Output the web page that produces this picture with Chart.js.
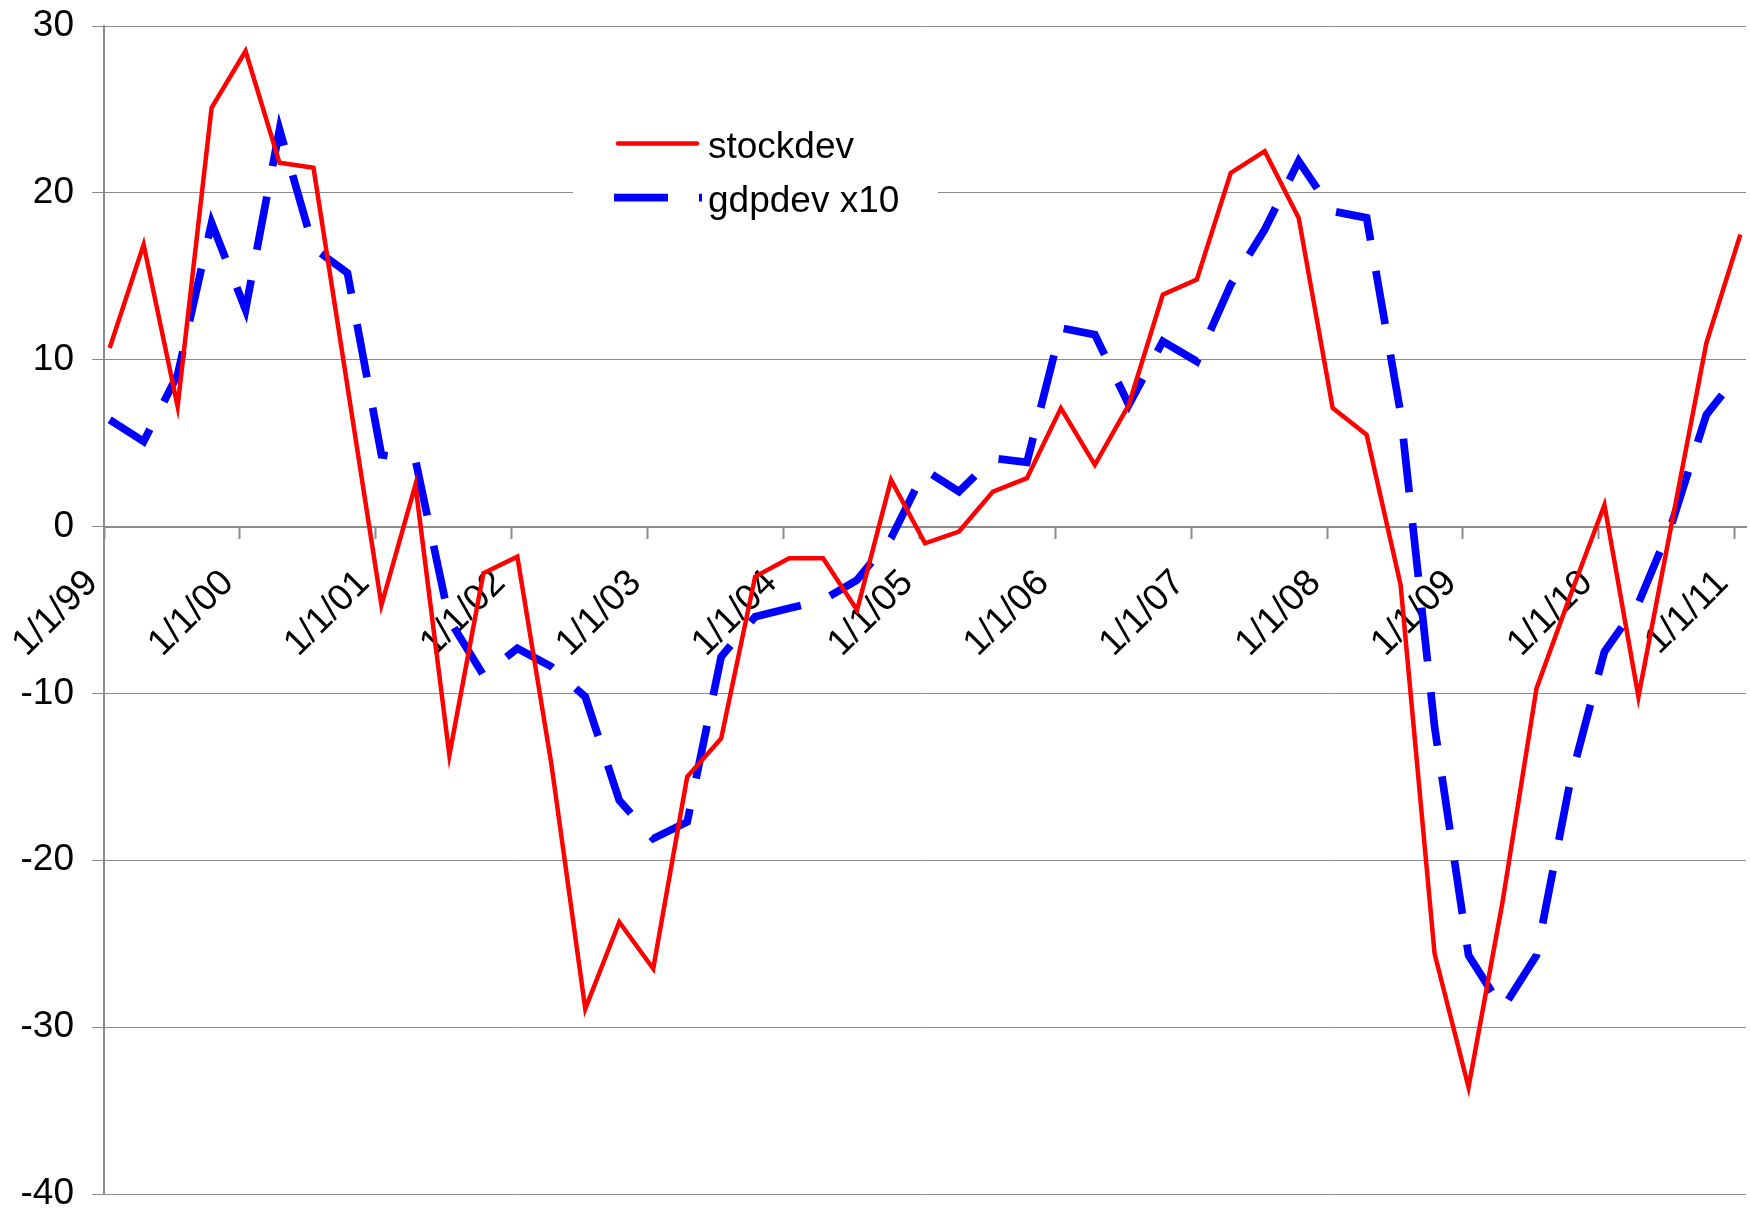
<!DOCTYPE html>
<html><head><meta charset="utf-8">
<script src="https://cdn.jsdelivr.net/npm/chart.js@4.4.1/dist/chart.umd.min.js"></script>
<style>html,body{margin:0;padding:0;background:#fff}canvas{display:block}</style>
</head><body>
<canvas id="c" width="1750" height="1208"></canvas>
<script>
// ---- data ----
const quarterDates = [
  "1/1/99","4/1/99","7/1/99","10/1/99",
  "1/1/00","4/1/00","7/1/00","10/1/00",
  "1/1/01","4/1/01","7/1/01","10/1/01",
  "1/1/02","4/1/02","7/1/02","10/1/02",
  "1/1/03","4/1/03","7/1/03","10/1/03",
  "1/1/04","4/1/04","7/1/04","10/1/04",
  "1/1/05","4/1/05","7/1/05","10/1/05",
  "1/1/06","4/1/06","7/1/06","10/1/06",
  "1/1/07","4/1/07","7/1/07","10/1/07",
  "1/1/08","4/1/08","7/1/08","10/1/08",
  "1/1/09","4/1/09","7/1/09","10/1/09",
  "1/1/10","4/1/10","7/1/10","10/1/10",
  "1/1/11"
];
const stockdev = [
  10.7, 16.9, 7.2, 25.1, 28.5, 21.8, 21.5, 8.4,
  -4.7, 2.5, -13.7, -2.8, -1.8, -14.2, -28.9, -23.7,
  -26.5, -15.0, -12.7, -3.0, -1.9, -1.9, -5.0, 2.8,
  -1.0, -0.3, 2.1, 2.9, 7.1, 3.7, 7.3, 13.9,
  14.8, 21.2, 22.5, 18.5, 7.1, 5.5, -3.5, -25.6,
  -33.6, -22.5, -9.7, -4.1, 1.3, -10.2, 0.4, 11.0,
  17.5
];
const gdpdevX10 = [
  6.4, 5.1, 9.1, 18.2, 13.0, 23.8, 16.7, 15.2,
  4.3, 4.0, -5.6, -8.9, -7.3, -8.4, -10.2, -16.4,
  -18.7, -17.7, -7.8, -5.4, -4.9, -4.4, -3.2, -0.7,
  3.4, 2.1, 4.1, 3.85, 11.9, 11.5, 7.3, 11.1,
  9.9, 14.5, 17.8, 21.9, 18.9, 18.5, 6.8, -12.0,
  -25.7, -28.9, -25.7, -15.2, -7.5, -4.6, 0.3, 6.7,
  9.3
];
const seriesLabels = ["stockdev", "gdpdev x10"];
const xTickLabels = ["1/1/99","1/1/00","1/1/01","1/1/02","1/1/03","1/1/04","1/1/05",
                     "1/1/06","1/1/07","1/1/08","1/1/09","1/1/10","1/1/11"];
const yMin = -40, yMax = 30, yStep = 10;

// ---- helpers ----
function monthIndex(s) {
  const [m, d, yy] = s.split('/').map(Number);
  const year = yy >= 50 ? 1900 + yy : 2000 + yy;
  return (year - 1999) * 12 + (m - 1);
}
// date axis with month base unit: each point sits in the middle of its month slot
const toPoints = vals => vals.map((v, i) => ({ x: monthIndex(quarterDates[i]) + 0.5, y: v }));
const xMin = monthIndex(xTickLabels[0]);
const xMax = monthIndex(quarterDates[quarterDates.length - 1]) + 1;
const xTickValues = xTickLabels.map(monthIndex);

const FONT = '"Liberation Sans", Arial, sans-serif';
const GRID = '#8c8c8c';

const legendPlugin = {
  id: 'boxLegend',
  beforeDatasetsDraw(chart) {
    const ctx = chart.ctx;
    ctx.save();
    ctx.fillStyle = '#ffffff';
    ctx.fillRect(573, 100, 365, 135);
    ctx.restore();
  },
  afterDatasetsDraw(chart) {
    const ctx = chart.ctx;
    ctx.save();
    chart.data.datasets.forEach((ds, i) => {
      const y = 143.5 + i * 54.2;
      ctx.beginPath();
      ctx.strokeStyle = ds.borderColor;
      ctx.lineWidth = ds.borderWidth;
      if (ds.borderDash) { ctx.setLineDash(ds.borderDash); ctx.lineCap = 'butt'; ctx.moveTo(614, y); ctx.lineTo(702, y); }
      else { ctx.setLineDash([]); ctx.lineCap = 'round'; ctx.moveTo(618, y); ctx.lineTo(697, y); }
      ctx.stroke();
      ctx.setLineDash([]);
      ctx.fillStyle = '#000000';
      ctx.font = '37px ' + FONT;
      ctx.textBaseline = 'middle';
      ctx.textAlign = 'left';
      ctx.fillText(ds.label, 708, y + 4);
    });
    ctx.restore();
  }
};

new Chart(document.getElementById('c'), {
  type: 'line',
  data: {
    datasets: [
      { label: seriesLabels[0], data: toPoints(stockdev), borderColor: '#ff0000', borderWidth: 4.5,
        pointRadius: 0, tension: 0, fill: false, borderJoinStyle: 'miter' },
      { label: seriesLabels[1], data: toPoints(gdpdevX10), borderColor: '#0000ff', borderWidth: 7.7,
        borderDash: [54, 31], pointRadius: 0, tension: 0, fill: false, borderJoinStyle: 'miter' }
    ]
  },
  options: {
    responsive: false,
    devicePixelRatio: 1,
    animation: false,
    events: [],
    layout: { padding: { left: 0, right: 4, top: 26, bottom: 14 }, autoPadding: false },
    plugins: { legend: { display: false }, tooltip: { enabled: false } },
    scales: {
      x: {
        type: 'linear',
        min: xMin, max: xMax,
        position: { y: 0 },
        afterBuildTicks: s => { s.ticks = xTickValues.map(v => ({ value: v })); },
        afterFit: s => { s.paddingLeft = 0; s.paddingRight = 0; s.paddingTop = 0; s.paddingBottom = 0; },
        grid: { drawOnChartArea: false, drawTicks: true, tickLength: 11, color: GRID, tickWidth: 2 },
        border: { display: true, color: GRID, width: 2 },
        ticks: {
          autoSkip: false, maxRotation: 45, minRotation: 45,
          padding: 24, labelOffset: -12,
          color: '#000', font: { family: FONT, size: 37 },
          callback: (v) => { const k = xTickValues.indexOf(v); return k >= 0 ? xTickLabels[k] : ''; }
        }
      },
      y: {
        type: 'linear',
        min: yMin, max: yMax,
        afterFit: s => { s.width = 104; s.paddingTop = 0; s.paddingBottom = 0; s.paddingLeft = 0; s.paddingRight = 0; },
        grid: { drawOnChartArea: true, drawTicks: true, tickLength: 12, color: GRID, lineWidth: 1 },
        border: { display: true, color: GRID, width: 2 },
        ticks: { stepSize: yStep, padding: 18, color: '#000', font: { family: FONT, size: 37 } }
      }
    }
  },
  plugins: [legendPlugin]
});
</script>
</body></html>
